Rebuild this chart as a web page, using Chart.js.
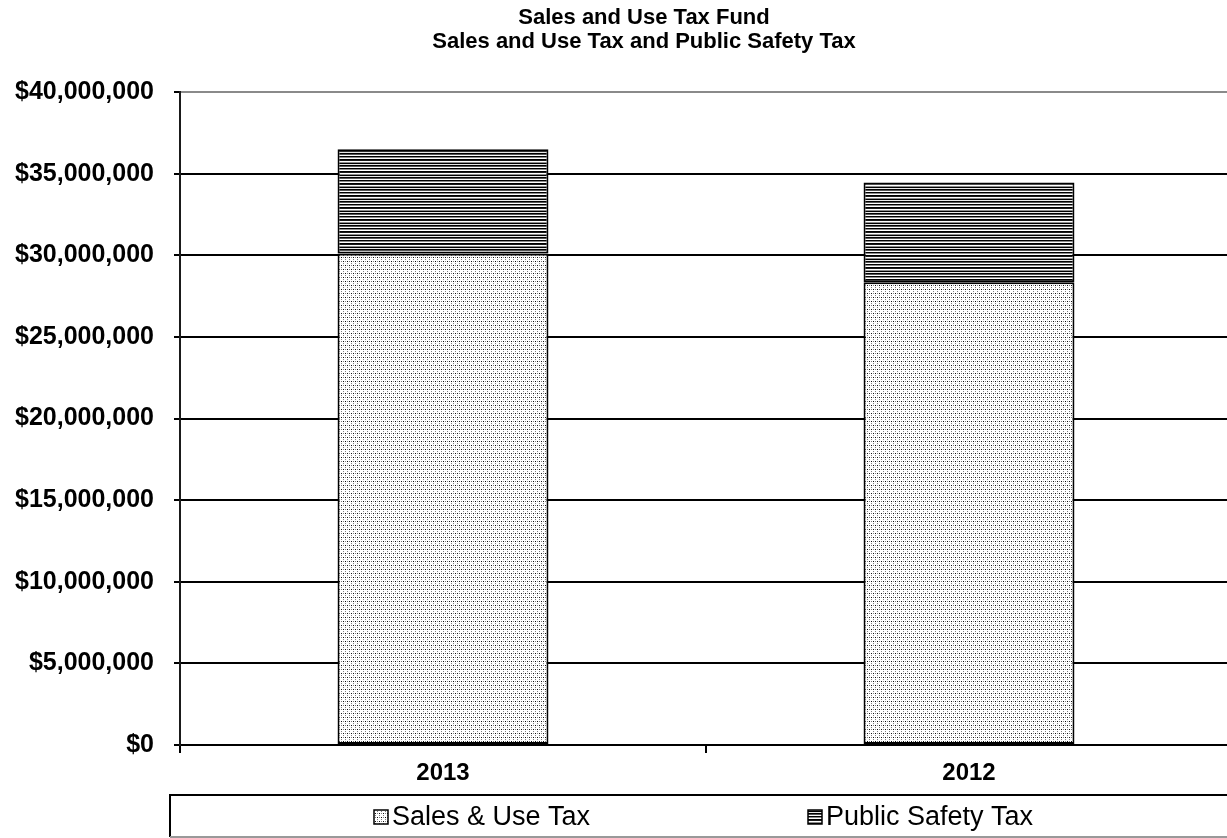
<!DOCTYPE html>
<html>
<head>
<meta charset="utf-8">
<title>Sales and Use Tax Fund</title>
<script src="https://cdn.jsdelivr.net/npm/chart.js@4/dist/chart.umd.min.js"></script>
<style>
  html, body { margin: 0; padding: 0; background: #fff; overflow: hidden; }
  #wrap { width: 1227px; height: 838px; overflow: hidden; position: relative; }
  canvas { display: block; }
</style>
</head>
<body>
<div id="wrap"><canvas id="chart" width="1240" height="838"></canvas></div>
<script>
// Fiscal years shown on the category axis
const years = ['2013', '2012'];
// Revenue by source, in dollars
const salesUseTax = [30100000, 28350000];
const publicSafetyTax = [6400000, 6100000];
// Series names and chart titles
const seriesNames = ['Sales & Use Tax', 'Public Safety Tax'];
const titleLines = ['Sales and Use Tax Fund', 'Sales and Use Tax and Public Safety Tax'];
// Value axis range
const yMin = 0, yMax = 40000000, yStep = 5000000;

const FONT = '"Liberation Sans", Arial, Helvetica, sans-serif';

// Dotted fill for the sales & use tax segment
function dotPattern() {
  const c = document.createElement('canvas');
  c.width = 8; c.height = 8;
  const g = c.getContext('2d');
  g.fillStyle = '#fff'; g.fillRect(0, 0, 8, 8);
  const dark = [[1, 1], [5, 1], [3, 5], [7, 5]];
  const mid = [[3, 1], [7, 1], [1, 5], [5, 5], [1, 3], [5, 3], [3, 7], [7, 7]];
  g.fillStyle = '#111';
  dark.forEach(([x, y]) => g.fillRect(x, y, 1, 1));
  g.fillStyle = '#808080';
  mid.forEach(([x, y]) => g.fillRect(x, y, 1, 1));
  return g.createPattern(c, 'repeat');
}

// Horizontal striped fill for the public safety tax segment
function stripePattern() {
  const rows = ['#000', '#8c8c8c', '#fff', '#000', '#1a1a1a', '#fff', '#8c8c8c', '#000', '#e8e8e8', '#000', '#555', '#fff'];
  const c = document.createElement('canvas');
  c.width = 4; c.height = rows.length;
  const g = c.getContext('2d');
  rows.forEach((col, i) => { g.fillStyle = col; g.fillRect(0, i, 4, 1); });
  return g.createPattern(c, 'repeat');
}

const fills = [dotPattern(), stripePattern()];

const money = v => '$' + Number(v).toLocaleString('en-US');

// Two-line bold title
const titlePlugin = {
  id: 'twoLineTitle',
  afterDraw(chart) {
    const ctx = chart.ctx;
    ctx.save();
    ctx.fillStyle = '#000';
    ctx.font = 'bold 22px ' + FONT;
    ctx.textAlign = 'center';
    ctx.textBaseline = 'middle';
    ctx.fillText(titleLines[0], 644, 18);
    ctx.fillText(titleLines[1], 644, 42);
    ctx.restore();
  }
};

// Boxed legend beneath the category axis
const legendPlugin = {
  id: 'boxedLegend',
  afterDraw(chart) {
    const ctx = chart.ctx;
    const top = 795, bottom = 837, left = 170, right = chart.width + 5;
    ctx.save();
    ctx.lineWidth = 2;
    ctx.strokeStyle = '#000';
    ctx.beginPath();
    ctx.moveTo(left, bottom); ctx.lineTo(left, top); ctx.lineTo(right, top);
    ctx.stroke();
    ctx.strokeStyle = '#999';
    ctx.beginPath();
    ctx.moveTo(left, bottom); ctx.lineTo(right, bottom);
    ctx.stroke();

    const cy = 817;
    const items = [
      { x: 374, name: seriesNames[0], fill: fills[0] },
      { x: 808, name: seriesNames[1], fill: fills[1] }
    ];
    ctx.font = '27px ' + FONT;
    ctx.textBaseline = 'middle';
    ctx.textAlign = 'left';
    items.forEach(it => {
      ctx.fillStyle = it.fill;
      ctx.fillRect(it.x, cy - 7, 14, 14);
      ctx.lineWidth = 1.5;
      ctx.strokeStyle = '#000';
      ctx.strokeRect(it.x, cy - 7, 14, 14);
      ctx.fillStyle = '#000';
      ctx.fillText(it.name, it.x + 18, cy + 1);
    });
    ctx.restore();
  }
};

new Chart(document.getElementById('chart'), {
  type: 'bar',
  data: {
    labels: years,
    datasets: [
      {
        label: seriesNames[0],
        data: salesUseTax,
        backgroundColor: fills[0],
        borderColor: '#000',
        borderWidth: 2,
        borderSkipped: false
      },
      {
        label: seriesNames[1],
        data: publicSafetyTax,
        backgroundColor: fills[1],
        borderColor: '#000',
        borderWidth: 2,
        borderSkipped: false
      }
    ]
  },
  options: {
    responsive: false,
    animation: false,
    events: [],
    layout: { padding: { top: 92, right: 8, left: 0, bottom: 0 } },
    plugins: {
      legend: { display: false },
      title: { display: false },
      tooltip: { enabled: false }
    },
    datasets: { bar: { barPercentage: 0.401, categoryPercentage: 1.0 } },
    scales: {
      x: {
        stacked: true,
        offset: true,
        afterFit(scale) { scale.height = 93; },
        border: { display: true, color: '#000', width: 2 },
        grid: {
          display: true,
          offset: true,
          drawOnChartArea: false,
          drawTicks: true,
          tickLength: 8,
          color: '#000',
          lineWidth: 2
        },
        ticks: {
          color: '#000',
          padding: 6,
          font: { family: FONT, size: 24, weight: 'bold' }
        }
      },
      y: {
        stacked: true,
        min: yMin,
        max: yMax,
        afterFit(scale) { scale.width = 180; },
        border: { display: true, color: '#1a1a1a', width: 2 },
        grid: {
          drawTicks: true,
          tickLength: 6,
          lineWidth: 2,
          color: ctx => (ctx.tick && ctx.tick.value === yMax) ? '#8a8a8a' : '#000',
          tickColor: '#000'
        },
        ticks: {
          stepSize: yStep,
          color: '#000',
          padding: 20,
          font: { family: FONT, size: 25, weight: 'bold' },
          callback: v => money(v)
        }
      }
    }
  },
  plugins: [titlePlugin, legendPlugin]
});
</script>
</body>
</html>
